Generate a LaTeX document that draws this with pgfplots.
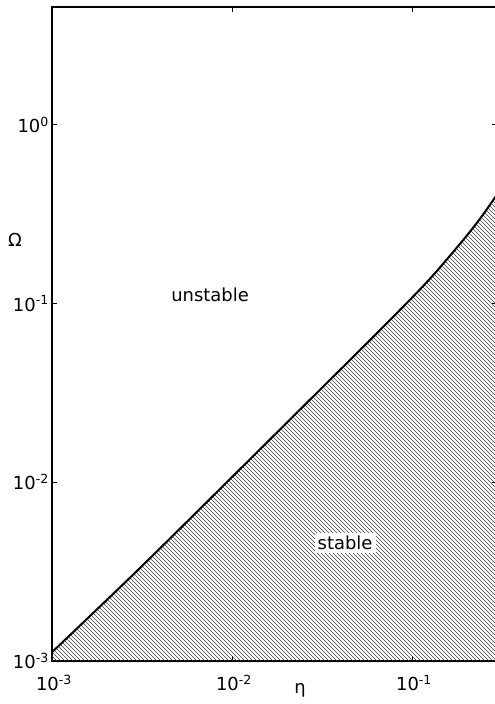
\documentclass[border=0pt]{standalone}
\usepackage{fontspec}
\setmainfont{DejaVu Sans}
\usepackage{pgfplots}
\pgfplotsset{compat=1.18}
\usetikzlibrary{patterns.meta,calc}
\begin{document}
\fontsize{18}{21}\selectfont
\begin{tikzpicture}
\begin{axis}[
  xmode=log, ymode=log,
  scale only axis, width=445bp, height=654bp,
  xmin=1e-3, xmax=0.2965, ymin=1e-3, ymax=4.57,
  xtick={1e-3,1e-2,1e-1},
  xticklabels={10\textsuperscript{-3},10\textsuperscript{-2},10\textsuperscript{-1}},
  ytick={1e-3,1e-2,1e-1,1},
  yticklabels={10\textsuperscript{-3},10\textsuperscript{-2},10\textsuperscript{-1},10\textsuperscript{0}},
  xminorticks=false, yminorticks=false,
  tick align=inside, major tick length=5bp,
  axis line style={line width=1.4bp},
  tick style={line width=1bp, black},
  xticklabel style={yshift=-8bp, xshift=2bp},
  yticklabel style={xshift=3bp},
]
\addplot[draw=none, pattern={Lines[angle=-45, distance=2.8284bp, line width=0.55bp]}, pattern color=black!75]
  coordinates {(0.001,0.00112)(0.003,0.00323)(0.01,0.0107)(0.03,0.0321)(0.06,0.0642)(0.1,0.108)(0.13,0.143)(0.16,0.182)(0.2,0.238)(0.24,0.301)(0.28,0.375)(0.30,0.415)(0.30,0.001)(0.001,0.001)};
\addplot[black, line width=2bp, smooth]
  coordinates {(0.001,0.00112)(0.003,0.00323)(0.01,0.0107)(0.03,0.0321)(0.06,0.0642)(0.1,0.108)(0.13,0.143)(0.16,0.182)(0.2,0.238)(0.24,0.301)(0.28,0.375)(0.30,0.415)};
\node at (axis cs:7.55e-3,0.112) {unstable};
\node[fill=white, inner sep=3bp] at (axis cs:0.0425,4.57e-3) {stable};
\end{axis}
\node at ($(current axis.south west)+(-37bp,421bp)$) {Ω};
\node at ($(current axis.south west)+(248bp,-29bp)$) {η};
\pgfresetboundingbox
\path ($(current axis.south west)+(-52bp,-43bp)$) rectangle ($(current axis.south west)+(443bp,661bp)$);
\end{tikzpicture}
\end{document}
